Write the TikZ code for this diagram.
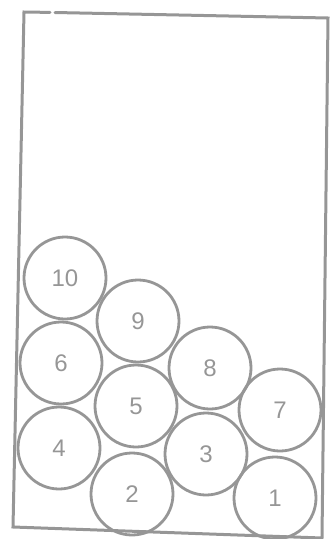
\documentclass[tikz,border=0pt]{standalone}
\usepackage{fontspec}
\setmainfont{Liberation Sans}
\definecolor{pen}{RGB}{150,150,150}
\begin{document}
\begin{tikzpicture}[x=1pt,y=-1pt,
  ball/.style={circle,draw=pen,line width=2.8pt,minimum size=82pt,inner sep=0pt,
    text=pen,font=\fontsize{24}{26}\selectfont},
  edge/.style={draw=pen,line width=3pt,line cap=round}]
\useasboundingbox (0,0) rectangle (332,539);
\coordinate (tl) at (24,12);
\coordinate (gap1) at (50,12.4);
\coordinate (gap2) at (55,12.5);
\coordinate (tr) at (328,18);
\coordinate (br) at (322,538);
\coordinate (bl) at (13,527);
\draw[edge] (gap1) -- (tl) -- (bl) -- (br) -- (tr) -- (gap2);
\node[ball] (n10) at (65,278) {10};
\node[ball] (n9) at (138,321) {9};
\node[ball] (n6) at (61,363) {6};
\node[ball] (n8) at (210,368) {8};
\node[ball] (n5) at (136,406) {5};
\node[ball] (n7) at (280,410) {7};
\node[ball] (n4) at (59,448) {4};
\node[ball] (n3) at (206,454) {3};
\node[ball] (n2) at (132,494) {2};
\node[ball] (n1) at (275,498) {1};
\end{tikzpicture}
\end{document}
